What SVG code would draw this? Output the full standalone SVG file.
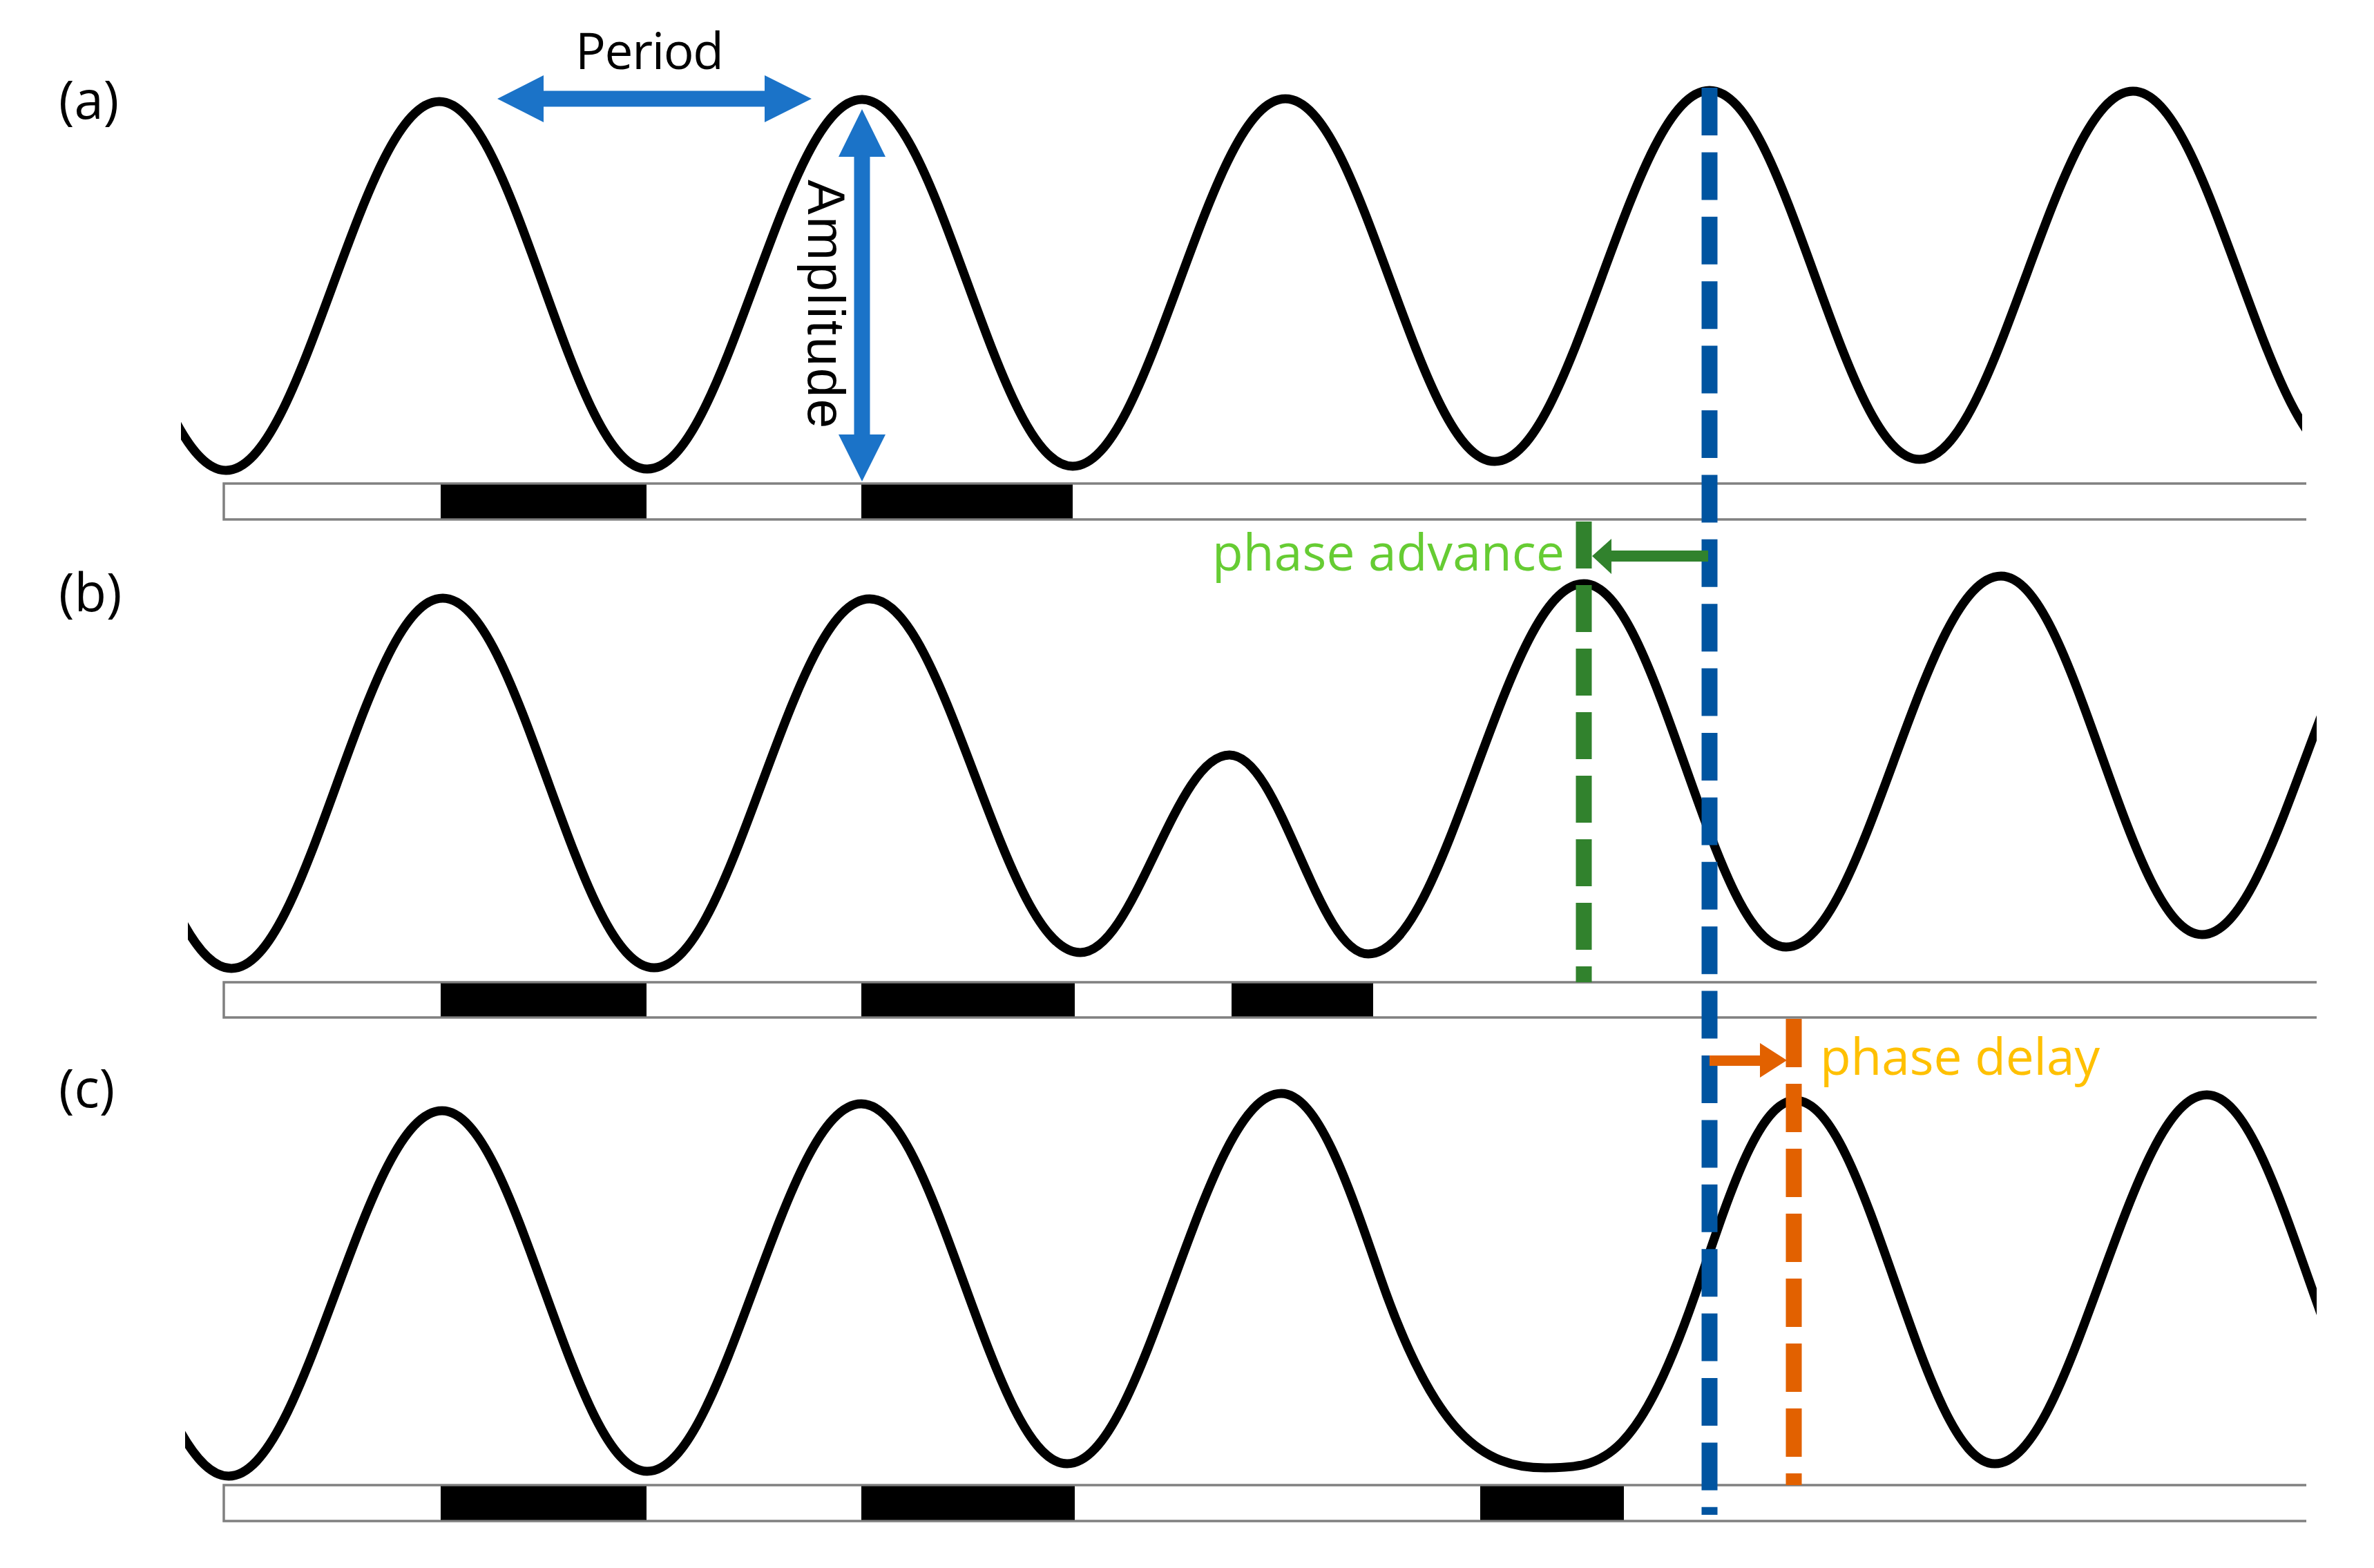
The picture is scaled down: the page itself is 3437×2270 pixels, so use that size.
<svg xmlns="http://www.w3.org/2000/svg" width="3437" height="2270" viewBox="0 0 3437 2270">
<style>
.wave{fill:none;stroke:#000;stroke-width:13;stroke-linejoin:round}
.bar{fill:#fff;stroke:#808080;stroke-width:3.5}
.dark{fill:#000}
.lbl{font-family:"Open Sans","Noto Sans",sans-serif;font-size:76px;fill:#000}
.txt{font-family:"Open Sans","Noto Sans",sans-serif;font-size:73px}
.dash{fill:none;stroke-width:23}
</style>
<defs>
<clipPath id="clipA"><rect x="262" y="0" width="3071" height="760"/></clipPath>
<clipPath id="clipB"><rect x="272" y="760" width="3082" height="660"/></clipPath>
<clipPath id="clipC"><rect x="268" y="1480" width="3086" height="668"/></clipPath>
</defs>
<rect width="3437" height="2270" fill="#fff"/>

<g id="panel-a">
<text class="lbl" x="85" y="172">(a)</text>
<path class="bar" d="M3339,700 H324 V752 H3339"/>
<rect class="dark" x="638" y="701.5" width="298" height="49"/>
<rect class="dark" x="1247" y="701.5" width="306" height="49"/>
<path class="wave" clip-path="url(#clipA)" d="M21,145
c55.6,0 101.9,127.3 153,268 c51.2,140.8 97.4,268 153,268
c56.1,0 102.9,-126.8 154.5,-267 c51.7,-140.2 98.4,-267 154.5,-267
c54.7,0 100.2,126.4 150.5,266 c50.3,139.7 95.8,266 150.5,266
c56.5,0 103.5,-127.1 155.5,-267.5 c52,-140.5 99,-267.5 155.5,-267.5
c55.4,0 101.5,126.1 152.5,265.5 c51,139.4 97.1,265.5 152.5,265.5
c56,0 102.5,-126.4 154,-266 c51.5,-139.7 98,-266 154,-266
c55.1,0 100.9,124.7 151.5,262.5 c50.7,137.9 96.4,262.5 151.5,262.5
c56.5,0 103.5,-127.5 155.5,-268.5 c52,-141 99,-268.5 155.5,-268.5
c55.2,0 101.2,126.8 152,267 c50.8,140.2 96.8,267 152,267
c56.1,0 102.9,-126.6 154.5,-266.5 c51.7,-140 98.4,-266.5 154.5,-266.5
c55.8,0 102.2,126.4 153.5,266 c51.3,139.7 97.7,266 153.5,266"/>
</g>

<g id="panel-b">
<text class="lbl" x="85" y="885">(b)</text>
<path class="bar" d="M3354,1422 H324 V1473 H3354"/>
<rect class="dark" x="638" y="1423.5" width="298" height="48"/>
<rect class="dark" x="1247" y="1423.5" width="309" height="48"/>
<rect class="dark" x="1783" y="1423.5" width="205" height="48"/>
<path class="wave" clip-path="url(#clipB)" d="M30,866
c55.4,0 101.5,127.3 152.5,268 c51,140.8 97.1,268 152.5,268
c55.6,0 101.9,-127.3 153,-268 c51.2,-140.8 97.4,-268 153,-268
c55.6,0 101.9,127.1 153,267.5 c51.2,140.5 97.4,267.5 153,267.5
c56.7,0 103.9,-126.8 156,-267 c52.2,-140.2 99.3,-267 156,-267
c55.4,0 101.5,121.6 152.5,256 c51,134.5 97.1,256 152.5,256
c39.2,0 71.9,-67.9 108,-143 c36.1,-75.1 68.8,-143 108,-143
c36.5,0 66.9,68.4 100.5,144 c33.6,75.6 64,144 100.5,144
c56.7,0 103.9,-127.3 156,-268 c52.2,-140.8 99.3,-268 156,-268
c53.2,0 97.5,124.9 146.5,263 c49,138.1 93.3,263 146.5,263
c56.5,0 103.5,-127.5 155.5,-268.5 c52,-141 99,-268.5 155.5,-268.5
c52.9,0 96.9,123.3 145.5,259.5 c48.7,136.3 92.6,259.5 145.5,259.5
c54.9,0 100.5,-123 151,-259 c50.5,-136 96.1,-259 151,-259"/>
</g>

<g id="panel-c">
<text class="lbl" x="85" y="1603">(c)</text>
<path class="bar" d="M3339,2150 H324 V2202 H3339"/>
<rect class="dark" x="638" y="2151.5" width="298" height="49"/>
<rect class="dark" x="1247" y="2151.5" width="309" height="49"/>
<rect class="dark" x="2143" y="2151.5" width="208" height="49"/>
<path class="wave" clip-path="url(#clipC)" d="M25,1610
c55.6,0 101.9,125.2 153,263.5 c51.2,138.4 97.4,263.5 153,263.5
c56.1,0 102.9,-125.6 154.5,-264.5 c51.7,-138.9 98.4,-264.5 154.5,-264.5
c54,0 98.9,124 148.5,261 c49.7,137.1 94.5,261 148.5,261
c56.3,0 103.2,-126.4 155,-266 c51.8,-139.7 98.7,-266 155,-266
c54.1,0 99.2,123.7 149,260.5 c49.8,136.8 94.9,260.5 149,260.5
c56.3,0 103.2,-127.3 155,-268 c51.8,-140.8 98.7,-268 155,-268
c51.8,0 94.9,125.2 142.5,263.5
C2077.5,2078.5 2147,2125 2237,2125
C2322,2125 2372,2118 2462,1851.5
c45.8,-135.8 87.2,-258.5 137,-258.5
c52.5,0 96.2,124.9 144.5,263 c48.3,138.1 92,263 144.5,263
c55.8,0 102.2,-126.8 153.5,-267 c51.3,-140.2 97.7,-267 153.5,-267
c53.6,0 98.2,126.8 147.5,267 c49.3,140.2 93.9,267 147.5,267"/>
</g>

<g id="annotations">
<g id="period">
<polygon fill="#1B73C8" points="720,143 787,109 787,131.5 1107,131.5 1107,109 1175,143 1107,177 1107,154.5 787,154.5 787,177"/>
<text class="txt" x="833" y="100" textLength="215" fill="#000">Period</text>
</g>
<g id="amplitude">
<polygon fill="#1B73C8" points="1248,158 1282,227 1259.5,227 1259.5,629 1282,629 1248,697 1214,629 1236.5,629 1236.5,227 1214,227"/>
<text x="1170" y="260" transform="rotate(90 1170 260)" font-family="'Liberation Sans',Arial,sans-serif" font-size="76" textLength="360" fill="#000">Amplitude</text>
</g>
</g>

<g id="connectors">
<path class="dash" stroke="#0054A0" stroke-dasharray="69 24.4" d="M2475,127 V2193"/>
<path class="dash" stroke="#31822D" stroke-dasharray="68 24" d="M2293,755 V1422"/>
<path class="dash" stroke="#E26100" stroke-dasharray="70 24" d="M2597,1475 V2150"/>
<polygon id="advance-arrow" fill="#31822D" points="2305,805 2333,780 2333,797 2473,797 2473,813 2333,813 2333,831"/>
<polygon id="delay-arrow" fill="#E26100" points="2475,1528 2548,1528 2548,1510 2587,1535 2548,1560 2548,1543 2475,1543"/>
</g>

<g id="phase-labels">
<text class="txt" x="1755" y="826" textLength="510" fill="#66CC33">phase advance</text>
<text class="txt" x="2635" y="1556" textLength="405" fill="#FFC000">phase delay</text>
</g>
</svg>
